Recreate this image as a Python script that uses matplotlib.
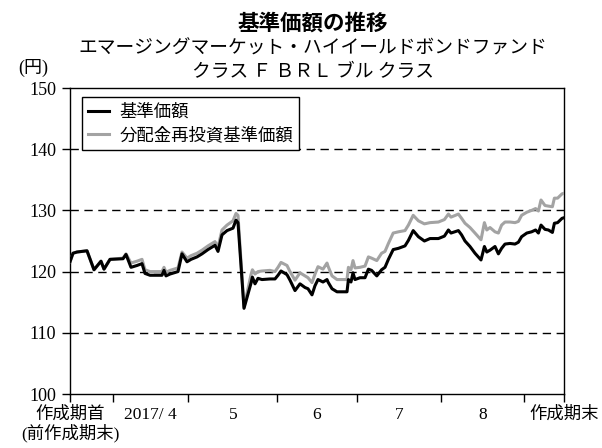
import matplotlib
matplotlib.use("Agg")
import matplotlib.pyplot as plt

# trading-day position on the x axis and the two series
days = [0, 0.75, 1.75, 4.25, 6, 7.75, 8.5, 10, 13.25, 14, 15.25, 16.75, 18, 18.75,
        20, 21.5, 23, 23.5, 24, 25, 25.5, 27, 28, 29.25, 30.25, 31.75, 33, 34.5,
        36.25, 37, 38, 39.25, 40.75, 41.5, 42, 43.5, 45.25, 45.6, 46.25, 47, 48,
        50, 51.25, 52, 52.75, 54.25, 55, 56.25, 57.5, 58.75, 59.5, 60.5, 61.25,
        62, 63.25, 64.25, 64.5, 65.5, 66.75, 69.25, 69.6, 70.25, 70.75, 71.25,
        72.5, 73.75, 74.6, 75.4, 76.7, 77.9, 78.75, 79.6, 80.8, 82.1, 83.75, 84.6,
        85.8, 87.1, 88.6, 90, 92.1, 93.6, 94.6, 95.25, 97.1, 97.9, 98.75, 100,
        101.25, 102.75, 103.6, 104.2, 105, 106.25, 107.1, 107.9, 108.75, 110,
        111.25, 112.1, 112.9, 114.2, 115.4, 116.4, 117.1, 117.75, 118.75, 119.6,
        120.6, 121.1, 121.9, 123, 123.5]

nav = [121.6, 123.0, 123.2, 123.4, 120.3, 121.7, 120.4, 122.0, 122.1, 122.8, 120.7,
       121.0, 121.3, 119.7, 119.4, 119.4, 119.4, 120.2, 119.3, 119.6, 119.7, 120.0,
       122.9, 121.6, 122.0, 122.4, 122.9, 123.6, 124.3, 123.3, 126.0, 126.7, 127.1,
       128.4, 128.0, 114.0, 118.1, 119.1, 118.0, 118.9, 118.7, 118.8, 118.8, 119.4,
       120.1, 119.5, 118.6, 116.9, 118.0, 117.4, 117.2, 116.2, 117.7, 118.7, 118.3,
       118.7, 118.3, 117.2, 116.7, 116.7, 118.7, 118.3, 119.8, 118.7, 119.0, 119.0,
       120.4, 120.2, 119.3, 120.3, 120.7, 122.0, 123.6, 123.8, 124.2, 125.1, 126.7,
       125.7, 125.0, 125.4, 125.4, 125.8, 126.8, 126.3, 126.7, 126.0, 125.0, 124.1,
       123.0, 121.9, 124.1, 123.2, 123.5, 124.1, 122.9, 123.8, 124.5, 124.6, 124.5,
       124.8, 125.7, 126.3, 126.5, 126.8, 126.3, 127.6, 126.9, 126.8, 126.4, 127.9,
       128.0, 128.7, 128.8]

nav_reinv = [121.6, 123.0, 123.2, 123.4, 120.3, 121.7, 120.4, 122.0, 122.2, 122.9,
             121.4, 121.7, 122.0, 120.3, 120.0, 120.0, 120.0, 120.7, 119.9, 120.2,
             120.3, 120.6, 123.2, 122.2, 122.6, 123.0, 123.5, 124.2, 124.9, 124.0,
             126.8, 127.6, 128.3, 129.5, 129.2, 114.2, 119.5, 120.3, 119.6, 120.0,
             120.1, 120.2, 120.0, 120.7, 121.5, 121.0, 120.0, 118.6, 119.8, 119.3,
             119.0, 118.2, 119.6, 120.8, 120.4, 121.4, 120.9, 119.3, 118.7, 118.7,
             120.7, 120.3, 121.8, 120.6, 120.7, 120.9, 122.4, 122.2, 121.8, 123.0,
             123.3, 124.6, 126.3, 126.5, 126.7, 127.6, 129.2, 128.3, 127.8, 128.0,
             128.1, 128.5, 129.4, 128.9, 129.4, 128.7, 127.9, 127.2, 126.3, 125.2,
             128.0, 126.8, 127.2, 126.5, 126.3, 127.6, 128.1, 128.1, 128.0, 128.2,
             129.2, 129.7, 130.0, 130.3, 129.9, 131.7, 130.8, 130.7, 130.6, 132.0,
             132.0, 132.7, 132.8]

# month boundaries (tick marks) and the labels centred between them
tick_days = [0, 10.7, 29.6, 51.75, 71.75, 92.75, 113.5, 123.5]
label_days = [0, 20.15, 40.7, 61.75, 82.25, 103.1, 123.5]
x_labels = ["作成期首\n(前作成期末)", "2017/ 4", "5", "6", "7", "8", "作成期末"]
y_ticks = [100, 110, 120, 130, 140, 150]

tick_font = ["Liberation Serif", "Noto Sans CJK JP"]
jp_font = ["Noto Sans CJK JP", "DejaVu Sans"]

fig = plt.figure(figsize=(6.02, 4.48), dpi=100)
ax = fig.add_axes([70 / 602, 1 - 394 / 448, 494 / 602, 306 / 448])

for y in [110, 120, 130, 140]:
    ax.axhline(y, color="black", lw=1.0, dashes=(6, 4), zorder=1)

ax.plot(days, nav_reinv, color="#a3a3a3", lw=2.2, label="分配金再投資基準価額", zorder=3)
ax.plot(days, nav, color="black", lw=2.2, label="基準価額", zorder=4)

ax.set_yticks(y_ticks)
ax.set_yticklabels([str(v) for v in y_ticks], family=tick_font, fontsize=13)

# keep minor labels even where they sit on a major tick (period start / end)
ax.xaxis.remove_overlapping_locs = False
ax.set_xticks(tick_days)
ax.set_xticklabels([])
ax.set_xticks(label_days, minor=True)
ax.set_xticklabels(x_labels, minor=True, family=tick_font, fontsize=12.5,
                   linespacing=1.05, va="top")
ax.tick_params(axis="x", which="minor", length=0, pad=9)
ax.tick_params(axis="x", which="major", direction="out", length=6, width=1)
ax.tick_params(axis="y", direction="out", length=6, width=1, pad=4)

ax.set_xlim(0, 123.5)
ax.set_ylim(100, 150)

for s in ax.spines.values():
    s.set_linewidth(1.0)
    s.set_color("black")

handles, labels = ax.get_legend_handles_labels()
leg = ax.legend(handles[::-1], labels[::-1], loc="upper left",
                bbox_to_anchor=(0.024, 0.971), borderaxespad=0,
                prop={"family": jp_font, "size": 12.5}, fancybox=False,
                framealpha=1, edgecolor="black", handlelength=1.2,
                handletextpad=0.6, borderpad=0.35, labelspacing=0.3)
leg.get_frame().set_linewidth(1.0)

fig.text(0.52, 1 - 23 / 448, "基準価額の推移", ha="center", va="center",
         family=jp_font, fontsize=15.5, fontweight="bold")
fig.text(0.52, 1 - 48 / 448, "エマージングマーケット・ハイイールドボンドファンド",
         ha="center", va="center", family=jp_font, fontsize=13.5)
fig.text(0.52, 1 - 72 / 448, "クラス Ｆ ＢＲＬ ブル クラス",
         ha="center", va="center", family=jp_font, fontsize=13.5)
fig.text(33 / 602, 1 - 68 / 448, "(円)", ha="center", va="center",
         family=tick_font, fontsize=13)

fig.savefig("out.png", dpi=100)
